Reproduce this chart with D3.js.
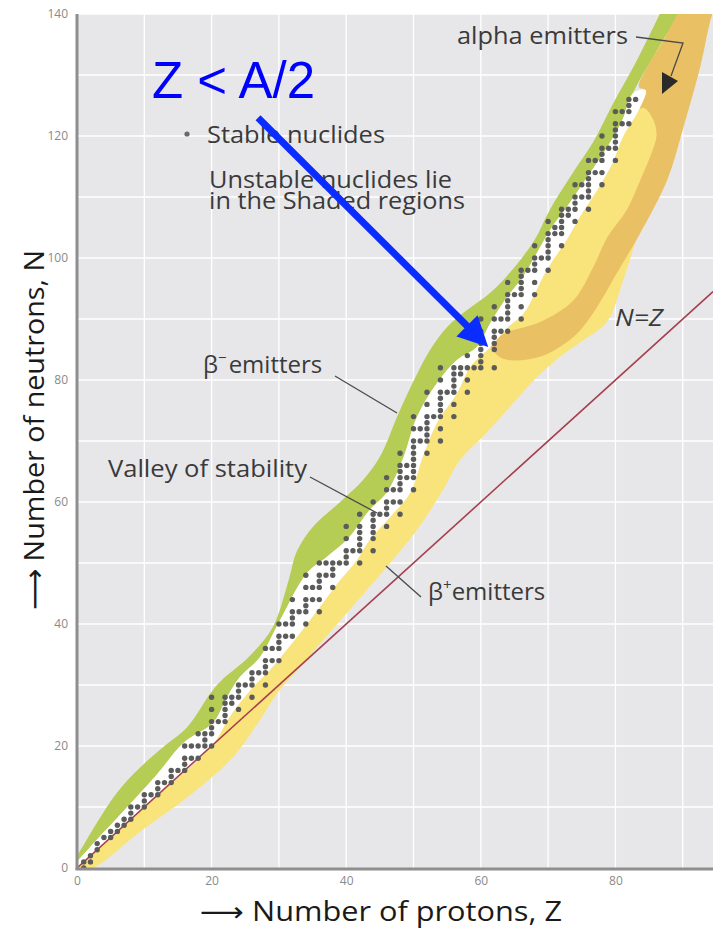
<!DOCTYPE html>
<html><head><meta charset="utf-8">
<script src="https://cdn.jsdelivr.net/npm/d3@7"></script>
<style>body{margin:0;background:#fff;} svg{display:block;}</style>
</head><body>
<svg id="chart" width="713" height="929"></svg>
<script>
// ---------- data ----------
const xTicks = [0, 20, 40, 60, 80];
const yTicks = [0, 20, 40, 60, 80, 100, 120, 140];

// stable nuclides: [Z, [N ...]]
const stableNuclides = [
[1,[0,1]],[2,[1,2]],[3,[3,4]],[4,[5]],[5,[5,6]],[6,[6,7]],[7,[7,8]],[8,[8,9,10]],[9,[10]],[10,[10,11,12]],
[11,[12]],[12,[12,13,14]],[13,[14]],[14,[14,15,16]],[15,[16]],[16,[16,17,18,20]],[17,[18,20]],[18,[18,20,22]],[19,[20,21,22]],[20,[20,22,23,24,26,28]],
[21,[24]],[22,[24,25,26,27,28]],[23,[27,28]],[24,[26,28,29,30]],[25,[30]],[26,[28,30,31,32]],[27,[32]],[28,[30,32,33,34,36]],[29,[34,36]],[30,[34,36,37,38,40]],
[31,[38,40]],[32,[38,40,41,42,44]],[33,[42]],[34,[40,42,43,44,46,48]],[35,[44,46]],[36,[42,44,46,47,48,50]],[37,[48,50]],[38,[46,48,49,50]],[39,[50]],[40,[50,51,52,54,56]],
[41,[52]],[42,[50,52,53,54,55,56,58]],[44,[52,54,55,56,57,58,60]],[45,[58]],[46,[56,58,59,60,62,64]],[47,[60,62]],[48,[58,60,62,63,64,65,66,68]],[49,[64,66]],[50,[62,64,65,66,67,68,69,70,72,74]],
[51,[70,72]],[52,[68,70,71,72,73,74,76,78]],[53,[74]],[54,[70,72,74,75,76,77,78,80,82]],[55,[78]],[56,[74,76,78,79,80,81,82]],[57,[81,82]],[58,[78,80,82,84]],[59,[82]],[60,[82,83,84,85,86,88,90]],
[62,[82,85,86,87,88,90,92]],[63,[88,90]],[64,[88,90,91,92,93,94,96]],[65,[94]],[66,[90,92,94,95,96,97,98]],[67,[98]],[68,[94,96,98,99,100,102]],[69,[100]],[70,[98,100,101,102,103,104,106]],
[71,[104,105]],[72,[102,104,105,106,107,108]],[73,[107,108]],[74,[106,108,109,110,112]],[75,[110,112]],[76,[108,110,111,112,113,114,116]],[77,[114,116]],[78,[112,114,116,117,118,120]],[79,[118]],[80,[116,118,119,120,121,122,124]],
[81,[122,124]],[82,[122,124,125,126]],[83,[126]]
];

// region boundaries [Z, N]
const greenTop = [[-1,0.5],[0,2],[3,7.5],[5.9,12.3],[9.4,16.5],[13,20],[16.3,23],[20.8,30],[25.7,34.8],[29.1,39.5],[31.4,47],[32.7,52],[35.1,56],[39.1,60],[42.5,63.6],[45,67.4],[47.8,74.6],[50.3,80.5],[52.5,85],[55,88.7],[58,91.5],[61.4,94.3],[65,98.5],[68,103],[70.3,108],[73.7,114],[76.7,119],[79.5,125],[83,132],[86.6,140],[88,143]];
const greenBottom = [[-1,-0.5],[0,1],[2,3.5],[8.3,11],[12,15.5],[15.8,20.5],[20.2,23.8],[22.3,28],[24.2,31.3],[27.2,34.6],[30.2,40.7],[34.2,48.4],[37.1,51],[40.1,53.8],[43.5,58.7],[46,61.5],[48.4,67],[50.5,73.9],[53.5,79.5],[56.5,83.3],[59.4,85.4],[61.4,89.3],[63.5,93],[66.3,97],[70.3,104.6],[72.8,108.4],[76.2,113.9],[78.8,118.2],[81,122.5],[82.6,127],[84.7,131.3],[87.7,136.9],[89.2,140],[90.5,143]];
const yellowTop = [[0,0],[10,10],[20.2,20.3],[22.7,24.8],[26.2,29.7],[28.7,32.5],[32.7,37.9],[36.1,42.8],[39.1,47.2],[41.6,50.5],[43.5,53.8],[46.5,57.5],[49.5,61.5],[51.4,67.5],[53.5,73],[56.5,77.9],[58.4,82.1],[61.4,85.4],[63.9,88.5],[66.3,90.8],[69.8,98],[72.8,103],[74.7,106.7],[77.3,111.1],[79.6,115.6],[81.1,119.8],[83.5,124.3],[84.5,127.5]];
const yellowBottom = [[-1,-1],[2.4,0],[9.4,6],[16.3,11.5],[23.2,18.2],[27.2,24.3],[30,29],[33,32.8],[40.1,41.8],[46,49.3],[50.5,55.4],[54.4,62],[56.9,66.9],[60.3,70.7],[63.9,75.1],[68.4,80.5],[72,84],[75.2,86.5],[78.8,89.6],[81.2,96.5],[83.5,104],[87.5,112.8],[89.8,121],[92.4,131.3],[94.2,140],[95.8,144]];
const orangeOuter = [[61.4,85.6],[62.5,84],[63.9,83.3],[68.8,83.8],[73.7,87],[76.7,91],[80.2,97.5],[83.7,104.1],[87.7,112.8],[90,121],[92.6,131.3],[94.4,140],[96,144]];
const orangeLeft = [[89.5,144],[87.7,136.9],[84.7,131.3],[83.5,128]];
const innerYellowEdge = [[84.3,124.6],[85.7,122.5],[86.1,120],[85.3,117],[83.7,112.8],[81.7,107.9],[78.8,103.4],[76.7,98.5],[73.7,93],[68.8,89.5],[63.9,87.8],[61.4,86.2]];

// ---------- scales ----------
const svg = d3.select('#chart');
const x = d3.scaleLinear().domain([0, 94.5]).range([77, 713]);
const y = d3.scaleLinear().domain([0, 140]).range([868, 14]);
const [x0, x1] = x.range(), [y0, y1] = [y(140), y(0)];

svg.append('defs').append('clipPath').attr('id','plotclip')
  .append('rect').attr('x',x0).attr('y',y0).attr('width',x1-x0).attr('height',y1-y0);

svg.append('rect').attr('x',x0).attr('y',y0).attr('width',x1-x0).attr('height',y1-y0).attr('fill','#e7e7ea');

// grid
const grid = svg.append('g').attr('stroke','#ffffff').attr('stroke-width',1.3);
grid.selectAll('.gx').data(d3.range(10, 95, 10)).join('line')
  .attr('x1',d=>x(d)).attr('x2',d=>x(d)).attr('y1',y0).attr('y2',y1);
grid.selectAll('.gy').data(d3.range(10, 141, 10)).join('line')
  .attr('y1',d=>y(d)).attr('y2',d=>y(d)).attr('x1',x0).attr('x2',x1);

// regions
const line = d3.line().x(d=>x(d[0])).y(d=>y(d[1])).curve(d3.curveCatmullRom.alpha(0.5));
const poly = pts => line(pts) + 'Z';
const reg = svg.append('g').attr('clip-path','url(#plotclip)');

const yellowPoly = yellowTop.concat([[88,143]], yellowBottom.slice().reverse());
reg.append('path').attr('d', poly(yellowPoly)).attr('fill','#f9e37b');

const ytUpper = yellowTop.filter(d=>d[0]>=61);
const orangePoly = orangeOuter.concat(orangeLeft, ytUpper.slice().reverse());
reg.append('path').attr('d', poly(orangePoly)).attr('fill','#eac064');

const innerPoly = ytUpper.filter(d=>d[1]<=124.3).concat(innerYellowEdge);
reg.append('path').attr('d', poly(innerPoly)).attr('fill','#f9e37b');

const greenPoly = greenTop.concat(greenBottom.slice().reverse());
reg.append('path').attr('d', poly(greenPoly)).attr('fill','#b5cc55');

const whitePoly = greenBottom.filter(d=>d[1]<=127).concat(yellowTop.slice().reverse());
reg.append('path').attr('d', poly(whitePoly)).attr('fill','#ffffff');

// N = Z line
reg.append('line').attr('x1',x(0)).attr('y1',y(0)).attr('x2',x(94.5)).attr('y2',y(94.5))
  .attr('stroke','#a5404f').attr('stroke-width',1.6);

// stable dots
const dots = stableNuclides.flatMap(([z, ns]) => ns.map(n => ({z, n})));
reg.append('g').selectAll('circle').data(dots).join('circle')
  .attr('cx', d=>x(d.z)).attr('cy', d=>y(d.n)).attr('r', 2.7).attr('fill','#5b5b5b');

// axes lines
svg.append('line').attr('x1',x0).attr('x2',x0).attr('y1',y0).attr('y2',y1+1.5).attr('stroke','#8e8e8e').attr('stroke-width',3);
svg.append('line').attr('x1',x0-1.5).attr('x2',x1).attr('y1',y1+1).attr('y2',y1+1).attr('stroke','#8e8e8e').attr('stroke-width',3);

// tick labels
const tickFont = g => g.call(s=>s.select('.domain').remove())
  .selectAll('text').attr('fill','#8a8a8a').style('font-family','"Open Sans", sans-serif').style('font-size','12px');
svg.append('g').attr('transform',`translate(${x0},0)`)
  .call(d3.axisLeft(y).tickValues(yTicks).tickSize(0).tickPadding(9)).call(tickFont);
svg.append('g').attr('transform',`translate(0,${y1})`)
  .call(d3.axisBottom(x).tickValues(xTicks).tickSize(0).tickPadding(8)).call(tickFont);

// axis titles
const ff = '"Open Sans", "DejaVu Sans", sans-serif';
svg.append('text').attr('x', 200).attr('y', 921)
  .style('font-family', ff).style('font-size','27px').attr('fill','#1a1a1a')
  .attr('textLength', 362).attr('lengthAdjust','spacingAndGlyphs')
  .text('⟶ Number of protons, Z');
svg.append('text').attr('transform','translate(44,610) rotate(-90)')
  .style('font-family', ff).style('font-size','28px').attr('fill','#1a1a1a')
  .attr('textLength', 360).attr('lengthAdjust','spacingAndGlyphs')
  .text('⟶ Number of neutrons, N');

// labels
const lab = (tx, ty, str, len) => svg.append('text').attr('x',tx).attr('y',ty)
  .style('font-family', ff).style('font-size','24px').attr('fill','#3a3a3a')
  .attr('textLength', len).attr('lengthAdjust','spacingAndGlyphs').text(str);

svg.append('circle').attr('cx',187).attr('cy',134).attr('r',2.6).attr('fill','#6a6a6a');
lab(207, 143, 'Stable nuclides', 178);
lab(209, 188, 'Unstable nuclides lie', 243);
lab(209, 209, 'in the Shaded regions', 256);
lab(457, 44, 'alpha emitters', 171);
lab(108, 477, 'Valley of stability', 199);

const bm = svg.append('text').attr('x',203).attr('y',373).style('font-family',ff).style('font-size','24px').attr('fill','#3a3a3a');
bm.append('tspan').text('β');
bm.append('tspan').attr('dy',-10).style('font-size','15px').text('−');
bm.append('tspan').attr('dy',10).attr('dx',2).text('emitters');

const bp = svg.append('text').attr('x',428).attr('y',600).style('font-family',ff).style('font-size','24px').attr('fill','#3a3a3a');
bp.append('tspan').text('β');
bp.append('tspan').attr('dy',-10).style('font-size','15px').text('+');
bp.append('tspan').attr('dy',10).text('emitters');

svg.append('text').attr('x',615).attr('y',326).style('font-family',ff).style('font-size','24px')
  .style('font-style','italic').attr('fill','#3a3a3a')
  .attr('textLength', 48).attr('lengthAdjust','spacingAndGlyphs').text('N=Z');

// leader lines
const leaders = svg.append('g').attr('stroke','#4a4a4a').attr('stroke-width',1.3).attr('fill','none');
leaders.append('line').attr('x1',335).attr('y1',376).attr('x2',397).attr('y2',413);
leaders.append('line').attr('x1',310).attr('y1',477).attr('x2',377).attr('y2',513);
leaders.append('line').attr('x1',386).attr('y1',566).attr('x2',421).attr('y2',597);
leaders.append('path').attr('d','M636,37 L683,43 L671,76');
svg.append('path').attr('d','M662,94 L662,72 L678,81 Z').attr('fill','#2a2a2a');

// big blue annotation
svg.append('text').attr('x',152).attr('y',98)
  .style('font-family','"Liberation Sans", Arial, sans-serif').style('font-size','51px')
  .attr('fill','#0000ff').text('Z < A/2');

const ax0 = x(26.9), ay0 = y(123), ax1 = x(61.1), ay1 = y(85.4);
const dx = ax1-ax0, dy = ay1-ay0, L = Math.hypot(dx,dy), ux = dx/L, uy = dy/L;
const hl = 30, hw = 15;
const bx = ax1 - ux*hl, by = ay1 - uy*hl;
svg.append('line').attr('x1',ax0).attr('y1',ay0).attr('x2',bx+ux*2).attr('y2',by+uy*2)
  .attr('stroke','#0a2cff').attr('stroke-width',7);
svg.append('path').attr('d',`M${ax1},${ay1} L${bx-uy*hw},${by+ux*hw} L${bx+uy*hw},${by-ux*hw} Z`).attr('fill','#0a2cff');
</script>
</body></html>
